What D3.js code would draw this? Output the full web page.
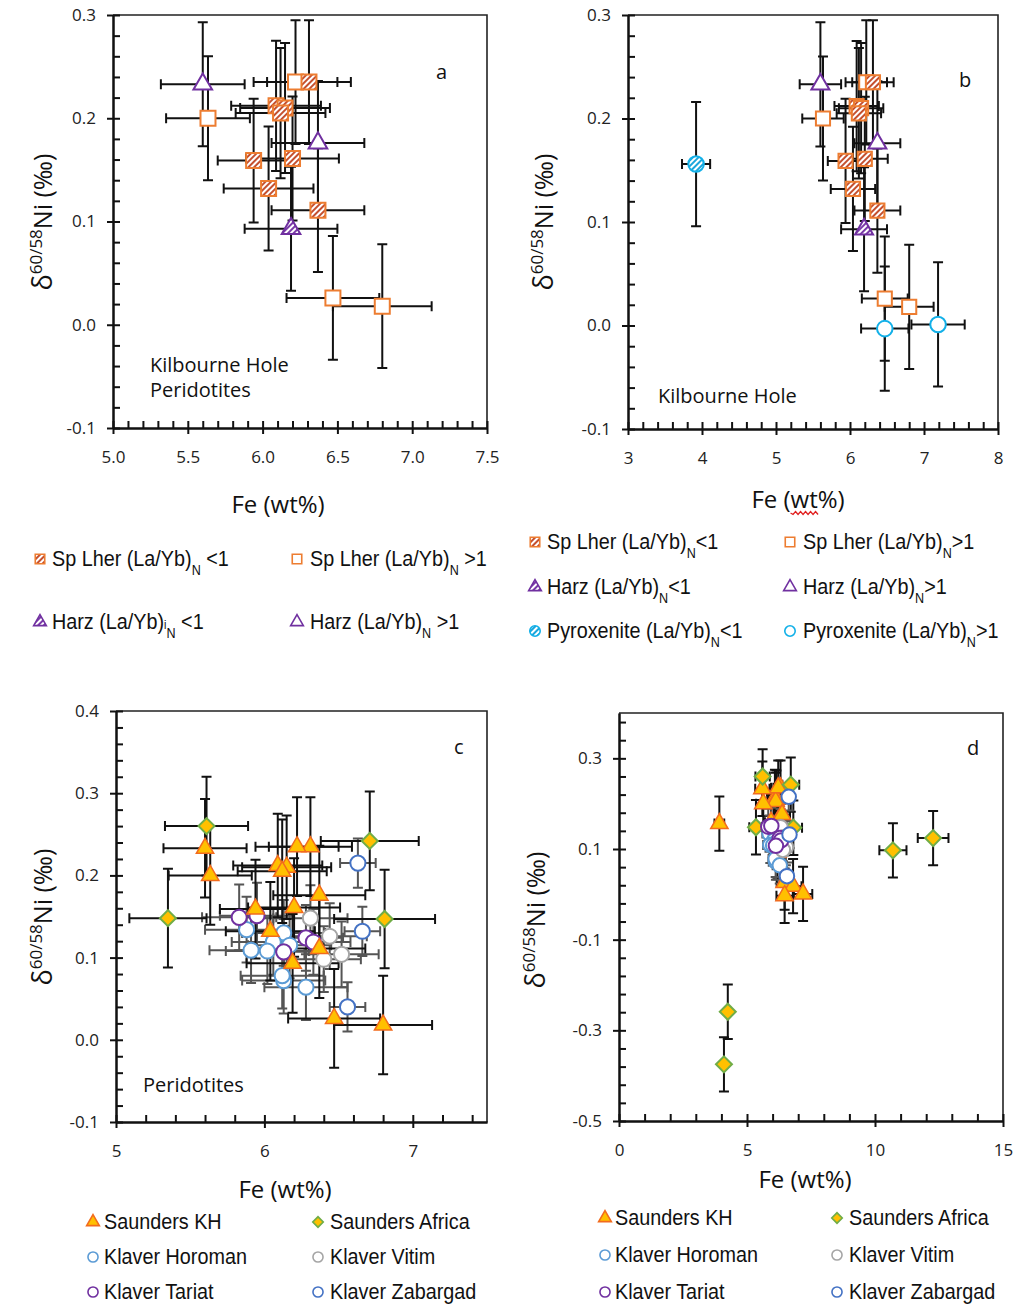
<!DOCTYPE html>
<html>
<head>
<meta charset="utf-8">
<script src="https://cdn.jsdelivr.net/npm/d3@7"></script>
<style>
  body { margin: 0; background: #fff; }
  svg { display: block; }
</style>
</head>
<body>
<svg id="fig" width="1025" height="1307"></svg>
<script>
// Each row: [Fe wt%, δ60/58Ni ‰, ±Fe, ±δ60/58Ni]
// Kilbourne Hole spinel lherzolites, (La/Yb)N < 1 and > 1
const spLherLow = [
  [6.31, 0.235, 0.28, 0.06], [6.09, 0.212, 0.30, 0.063], [6.15, 0.210, 0.30, 0.063],
  [6.12, 0.205, 0.30, 0.063], [5.94, 0.159, 0.24, 0.06], [6.20, 0.161, 0.31, 0.06],
  [6.04, 0.132, 0.30, 0.06], [6.37, 0.111, 0.31, 0.06]
];
const spLherHigh = [
  [5.635, 0.200, 0.28, 0.06], [6.22, 0.235, 0.28, 0.06],
  [6.47, 0.026, 0.31, 0.06], [6.80, 0.018, 0.33, 0.06]
];
// Kilbourne Hole harzburgites
const harzLow = [[6.19, 0.093, 0.31, 0.06]];
const harzHigh = [[5.60, 0.233, 0.28, 0.06], [6.37, 0.176, 0.31, 0.06]];
// Kilbourne Hole pyroxenites
const pyxLow = [[3.92, 0.156, 0.19, 0.06]];
const pyxHigh = [[6.47, -0.003, 0.32, 0.06], [7.19, 0.001, 0.36, 0.06]];
// Saunders et al. African peridotites
const saundersAfrica = [
  [5.61, 0.260, 0.28, 0.06], [6.71, 0.242, 0.33, 0.06], [5.35, 0.148, 0.26, 0.06],
  [6.81, 0.147, 0.34, 0.06], [10.7, 0.097, 0.53, 0.06], [12.27, 0.124, 0.60, 0.06],
  [4.25, -0.259, 0.10, 0.06], [4.10, -0.375, 0.10, 0.06]
];
// Klaver et al. peridotite suites
const klaverHoroman = [
  [5.88, 0.134, 0.28, 0.04], [6.13, 0.130, 0.28, 0.04], [6.06, 0.119, 0.28, 0.04],
  [6.17, 0.115, 0.28, 0.04], [5.91, 0.109, 0.28, 0.04], [6.02, 0.108, 0.28, 0.04],
  [6.13, 0.072, 0.28, 0.04], [6.12, 0.078, 0.28, 0.04], [6.28, 0.064, 0.28, 0.04]
];
const klaverVitim = [
  [6.31, 0.148, 0.25, 0.04], [6.44, 0.126, 0.25, 0.04],
  [6.52, 0.104, 0.25, 0.04], [6.40, 0.098, 0.25, 0.04]
];
const klaverTariat = [
  [5.83, 0.149, 0.25, 0.04], [5.95, 0.151, 0.25, 0.04], [6.28, 0.124, 0.25, 0.04],
  [6.33, 0.119, 0.25, 0.04], [6.13, 0.107, 0.25, 0.04]
];
const klaverZabargad = [
  [6.63, 0.215, 0.12, 0.03], [6.66, 0.132, 0.12, 0.03], [6.56, 0.040, 0.12, 0.03]
];
// Saunders et al. Kilbourne Hole: peridotites, plus pyroxenites
const saundersKHPeridotite = [].concat(spLherLow, spLherHigh, harzLow, harzHigh);
const saundersKHAll = [].concat(saundersKHPeridotite, pyxLow, pyxHigh);

const ORANGE = "#ed7d31", PURPLE = "#7030a0", CYAN = "#12b0e8";
const GOLD = "#ffc000", GREEN = "#70ad47", TRI_EDGE = "#f26b1d";
const HORO = "#5b9bd5", VITIM = "#a5a5a5", TARIAT = "#7030a0", ZAB = "#4472c4";
const FONT = "'Open Sans', 'Noto Sans', sans-serif";
const LFONT = "'Liberation Sans', Arial, sans-serif";

const svg = d3.select("#fig");
const defs = svg.append("defs");

// diagonal stripe fills
function stripes(id, color) {
  const p = defs.append("pattern").attr("id", id)
    .attr("patternUnits", "userSpaceOnUse").attr("width", 4).attr("height", 4)
    .attr("patternTransform", "rotate(45)");
  p.append("rect").attr("width", 4).attr("height", 4).attr("fill", "#fff");
  p.append("rect").attr("width", 2).attr("height", 4).attr("fill", color);
}
stripes("hatchRed", "#c5502f");
stripes("hatchPurple", "#7a3aa8");
stripes("hatchBlue", "#1aa6dc");

const shapes = {
  square: d3.symbolSquare, triangle: d3.symbolTriangle,
  circle: d3.symbolCircle, diamond: d3.symbolSquare
};

function fmt(decimals) {
  return v => d3.format("." + decimals + "f")(v).replace("\u2212", "-");
}

// evenly spaced tick values from a, kept within [lo, hi]
function ticks(a, step, lo, hi) {
  const n = Math.floor((hi - a) / step + 1e-6);
  return d3.range(n + 1).map(i => +(a + i * step).toFixed(6)).filter(v => v >= lo - 1e-9 && v <= hi + 1e-9);
}

function drawPanel(cfg) {
  const g = svg.append("g");
  const x = d3.scaleLinear().domain(cfg.xDomain).range([cfg.left, cfg.right]);
  const y = d3.scaleLinear().domain(cfg.yDomain).range([cfg.bottom, cfg.top]);
  const clipId = "clip-" + cfg.name;
  defs.append("clipPath").attr("id", clipId).append("rect")
    .attr("x", cfg.left).attr("y", cfg.top)
    .attr("width", cfg.right - cfg.left).attr("height", cfg.bottom - cfg.top);

  // top and right frame
  g.append("path")
    .attr("d", `M${cfg.left},${cfg.top}H${cfg.right}V${cfg.bottom}`)
    .attr("fill", "none").attr("stroke", "#222").attr("stroke-width", 1.6);

  const [x0, x1] = cfg.xDomain, [y0, y1] = cfg.yDomain;
  const xMaj = ticks(x0, cfg.xMajor, x0, x1);
  const xMin = ticks(x0, cfg.xMinor, x0, x1);
  const yMaj = ticks(cfg.yMajorStart, cfg.yMajor, y0, y1);
  const yMin = ticks(y0, cfg.yMinor, y0, y1);

  const styleAxis = a => {
    a.selectAll("path.domain").attr("stroke", "#111").attr("stroke-width", 2);
    a.selectAll(".tick line").attr("stroke", "#111").attr("stroke-width", 2);
    a.selectAll("text").attr("font-family", FONT).attr("font-size", 17).attr("fill", "#222");
  };

  // bottom axis: labels and outward major ticks, then inward ticks
  g.append("g").attr("transform", `translate(0,${cfg.bottom})`)
    .call(d3.axisBottom(x).tickValues(xMaj).tickSize(6).tickSizeOuter(0)
      .tickPadding(cfg.xPad).tickFormat(cfg.xFmt))
    .call(styleAxis);
  g.append("g").attr("transform", `translate(0,${cfg.bottom})`)
    .call(d3.axisTop(x).tickValues(xMin).tickSize(7).tickSizeOuter(0).tickFormat(""))
    .call(styleAxis);
  // left axis
  g.append("g").attr("transform", `translate(${cfg.left},0)`)
    .call(d3.axisLeft(y).tickValues(yMaj).tickSize(6).tickSizeOuter(0)
      .tickPadding(cfg.yPad).tickFormat(cfg.yFmt))
    .call(styleAxis);
  g.append("g").attr("transform", `translate(${cfg.left},0)`)
    .call(d3.axisRight(y).tickValues(yMin).tickSize(7).tickSizeOuter(0).tickFormat(""))
    .call(styleAxis);

  // axis titles
  const xt = g.append("text").attr("x", cfg.xTitle[0]).attr("y", cfg.xTitle[1])
    .attr("text-anchor", "middle").attr("font-family", FONT).attr("font-size", 24).attr("fill", "#111")
    .text("Fe (wt%)");
  if (cfg.squiggle) {
    const node = xt.node();
    const s0 = node.getStartPositionOfChar(4).x, s1 = node.getEndPositionOfChar(5).x;
    const yy = cfg.xTitle[1] + 5;
    let d = `M${s0},${yy}`;
    for (let px = s0, k = 0; px < s1; px += 2.5, k++) d += `L${px + 2.5},${yy + (k % 2 ? -1.5 : 1.5)}`;
    g.append("path").attr("d", d).attr("fill", "none").attr("stroke", "#e02020").attr("stroke-width", 1.3);
  }
  const yt = g.append("text")
    .attr("transform", `translate(${cfg.yTitle[0]},${cfg.yTitle[1]}) rotate(-90)`)
    .attr("text-anchor", "middle").attr("font-family", FONT).attr("font-size", 25).attr("fill", "#111");
  yt.append("tspan").attr("font-size", 27).text("δ");
  yt.append("tspan").attr("font-size", 17).attr("dy", -10).text("60/58");
  yt.append("tspan").attr("dy", 10).text(cfg.yTitleGap ? "Ni  (‰)" : "Ni (‰)");

  // panel letter and site note
  g.append("text").attr("x", cfg.letter[0]).attr("y", cfg.letter[1])
    .attr("font-family", FONT).attr("font-size", 20).attr("fill", "#111").text(cfg.letter[2]);
  cfg.note.lines.forEach((t, i) => {
    g.append("text").attr("x", cfg.note.x).attr("y", cfg.note.y + i * 25)
      .attr("font-family", FONT).attr("font-size", 20).attr("fill", "#111").text(t);
  });

  const plot = g.append("g").attr("clip-path", `url(#${clipId})`);
  const inDomain = d => d[0] >= x0 && d[0] <= x1 && d[1] >= y0 && d[1] <= y1;

  // error bars
  cfg.series.forEach(s => {
    const eb = plot.append("g").attr("stroke", s.errColor || "#111")
      .attr("stroke-width", 2).attr("fill", "none");
    s.data.filter(inDomain).forEach(d => {
      const cx = x(d[0]), cy = y(d[1]);
      const xl = x(d[0] - d[2]), xr = x(d[0] + d[2]);
      const ytop = y(d[1] + d[3]), ybot = y(d[1] - d[3]);
      const c = 5;
      eb.append("path").attr("d",
        `M${xl},${cy}H${xr}M${xl},${cy - c}V${cy + c}M${xr},${cy - c}V${cy + c}` +
        `M${cx},${ytop}V${ybot}M${cx - c},${ytop}H${cx + c}M${cx - c},${ybot}H${cx + c}`);
    });
  });
  // markers
  cfg.series.forEach(s => {
    plot.append("g").selectAll("path").data(s.data.filter(inDomain)).join("path")
      .attr("d", d3.symbol().type(shapes[s.shape]).size(s.size))
      .attr("transform", d => `translate(${x(d[0])},${y(d[1])})` + (s.shape === "diamond" ? " rotate(45)" : ""))
      .attr("fill", s.fill).attr("stroke", s.stroke).attr("stroke-width", s.sw || 2);
  });
}

// legend entries: marker + label, with (La/Yb) subscript N where needed
function legendItem(it) {
  const g = svg.append("g");
  g.append("path")
    .attr("d", d3.symbol().type(shapes[it.shape]).size(it.size))
    .attr("transform", `translate(${it.mx},${it.y})` + (it.shape === "diamond" ? " rotate(45)" : ""))
    .attr("fill", it.fill).attr("stroke", it.stroke).attr("stroke-width", it.sw || 1.6);
  const t = g.append("text")
    .attr("transform", `translate(${it.tx},${it.y + 7}) scale(0.9,1)`)
    .attr("font-family", LFONT).attr("font-size", 22).attr("fill", "#111");
  t.append("tspan").text(it.label);
  if (it.tail) {
    if (it.stray) t.append("tspan").attr("font-size", 12).attr("dy", 0).text(it.stray);
    t.append("tspan").attr("font-size", 14).attr("dy", 9).text("N");
    t.append("tspan").attr("dy", -9).text(it.tail);
  }
}

const hatchSq = { shape: "square", fill: "url(#hatchRed)", stroke: ORANGE };
const openSq = { shape: "square", fill: "#fff", stroke: ORANGE };
const hatchTri = { shape: "triangle", fill: "url(#hatchPurple)", stroke: PURPLE };
const openTri = { shape: "triangle", fill: "#fff", stroke: PURPLE };
const hatchCirc = { shape: "circle", fill: "url(#hatchBlue)", stroke: CYAN };
const openCirc = { shape: "circle", fill: "#fff", stroke: CYAN };

const khSeries = (sq, tri) => [
  Object.assign({ data: harzHigh, size: tri }, openTri),
  Object.assign({ data: spLherHigh, size: sq }, openSq),
  Object.assign({ data: spLherLow, size: sq }, hatchSq),
  Object.assign({ data: harzLow, size: tri }, hatchTri)
];

// a: Kilbourne Hole peridotites
drawPanel({
  name: "a", left: 113, right: 487, top: 15, bottom: 428,
  xDomain: [5, 7.5], xMajor: 0.5, xMinor: 0.1, xFmt: fmt(1), xPad: 17,
  yDomain: [-0.1, 0.3], yMajorStart: -0.1, yMajor: 0.1, yMinor: 0.02, yFmt: fmt(1), yPad: 11,
  xTitle: [278, 513], yTitle: [52, 222], yTitleGap: true,
  letter: [436, 79, "a"], note: { x: 150, y: 372, lines: ["Kilbourne Hole", "Peridotites"] },
  series: khSeries(225, 150)
});

// b: Kilbourne Hole peridotites and pyroxenites
drawPanel({
  name: "b", left: 628, right: 998, top: 15, bottom: 429,
  xDomain: [3, 8], xMajor: 1, xMinor: 0.2, xFmt: fmt(0), xPad: 17,
  yDomain: [-0.1, 0.3], yMajorStart: -0.1, yMajor: 0.1, yMinor: 0.02, yFmt: fmt(1), yPad: 11,
  xTitle: [798, 508], yTitle: [553, 222], yTitleGap: true, squiggle: true,
  letter: [959, 87, "b"], note: { x: 658, y: 403, lines: ["Kilbourne Hole"] },
  series: khSeries(200, 140).concat([
    Object.assign({ data: pyxLow, size: 190 }, hatchCirc),
    Object.assign({ data: pyxHigh, size: 190 }, openCirc)
  ])
});

const khTri = { shape: "triangle", fill: GOLD, stroke: TRI_EDGE, sw: 1.5 };
const afDia = { shape: "diamond", fill: GOLD, stroke: GREEN, sw: 2 };
const kCirc = c => ({ shape: "circle", fill: "#fff", stroke: c, sw: 2, errColor: "#555" });

const klaverSeries = circ => [
  Object.assign({ data: klaverHoroman, size: circ }, kCirc(HORO)),
  Object.assign({ data: klaverVitim, size: circ }, kCirc(VITIM)),
  Object.assign({ data: klaverTariat, size: circ }, kCirc(TARIAT)),
  Object.assign({ data: klaverZabargad, size: circ }, kCirc(ZAB))
];
const saundersSeries = (khData, tri, dia) => [
  Object.assign({ data: khData, size: tri }, khTri),
  Object.assign({ data: saundersAfrica, size: dia }, afDia)
];

// c: peridotites
drawPanel({
  name: "c", left: 116, right: 487, top: 711, bottom: 1122,
  xDomain: [5, 7.5], xMajor: 1, xMinor: 0.2, xFmt: fmt(0), xPad: 17,
  yDomain: [-0.1, 0.4], yMajorStart: -0.1, yMajor: 0.1, yMinor: 0.02, yFmt: fmt(1), yPad: 11,
  xTitle: [285, 1198], yTitle: [52, 917], yTitleGap: false,
  letter: [454, 754, "c"], note: { x: 143, y: 1092, lines: ["Peridotites"] },
  series: klaverSeries(180).concat(saundersSeries(saundersKHPeridotite, 130, 128))
});

// d: all samples, Klaver circles drawn over the Saunders symbols
drawPanel({
  name: "d", left: 619, right: 1003, top: 713, bottom: 1121,
  xDomain: [0, 15], xMajor: 5, xMinor: 1, xFmt: fmt(0), xPad: 17,
  yDomain: [-0.5, 0.4], yMajorStart: -0.5, yMajor: 0.2, yMinor: 0.04, yFmt: fmt(1), yPad: 11,
  xTitle: [805, 1188], yTitle: [545, 920], yTitleGap: false,
  letter: [967, 755, "d"], note: { x: 0, y: 0, lines: [] },
  series: saundersSeries(saundersKHAll, 130, 128).concat(klaverSeries(165))
});

// legends for a and b
[
  Object.assign({ mx: 40, tx: 52, y: 559, size: 90, label: "Sp Lher (La/Yb)", tail: " <1" }, hatchSq),
  Object.assign({ mx: 297, tx: 310, y: 559, size: 90, label: "Sp Lher (La/Yb)", tail: " >1" }, openSq),
  Object.assign({ mx: 40, tx: 52, y: 622, size: 70, label: "Harz (La/Yb)", stray: "i", tail: " <1" }, hatchTri),
  Object.assign({ mx: 297, tx: 310, y: 622, size: 70, label: "Harz (La/Yb)", tail: " >1" }, openTri),
  Object.assign({ mx: 535, tx: 547, y: 542, size: 90, label: "Sp Lher (La/Yb)", tail: "<1" }, hatchSq),
  Object.assign({ mx: 790, tx: 803, y: 542, size: 90, label: "Sp Lher (La/Yb)", tail: ">1" }, openSq),
  Object.assign({ mx: 535, tx: 547, y: 587, size: 70, label: "Harz (La/Yb)", tail: "<1" }, hatchTri),
  Object.assign({ mx: 790, tx: 803, y: 587, size: 70, label: "Harz (La/Yb)", tail: ">1" }, openTri),
  Object.assign({ mx: 535, tx: 547, y: 631, size: 85, label: "Pyroxenite (La/Yb)", tail: "<1" }, hatchCirc),
  Object.assign({ mx: 790, tx: 803, y: 631, size: 85, label: "Pyroxenite (La/Yb)", tail: ">1" }, openCirc)
].forEach(legendItem);

// legends for c and d
[[93, 104, 318, 330, [1222, 1257, 1292]], [605, 615, 837, 849, [1218, 1255, 1292]]].forEach(p => {
  const [m1, t1, m2, t2, rows] = p;
  [
    Object.assign({ mx: m1, tx: t1, y: rows[0], size: 70, label: "Saunders KH" }, khTri),
    Object.assign({ mx: m2, tx: t2, y: rows[0], size: 55, label: "Saunders Africa" }, afDia),
    Object.assign({ mx: m1, tx: t1, y: rows[1], size: 80, label: "Klaver Horoman" }, kCirc(HORO)),
    Object.assign({ mx: m2, tx: t2, y: rows[1], size: 80, label: "Klaver Vitim" }, kCirc(VITIM)),
    Object.assign({ mx: m1, tx: t1, y: rows[2], size: 80, label: "Klaver Tariat" }, kCirc(TARIAT)),
    Object.assign({ mx: m2, tx: t2, y: rows[2], size: 80, label: "Klaver Zabargad" }, kCirc(ZAB))
  ].forEach(it => legendItem(Object.assign(it, { sw: 1.6 })));
});
</script>
</body>
</html>
